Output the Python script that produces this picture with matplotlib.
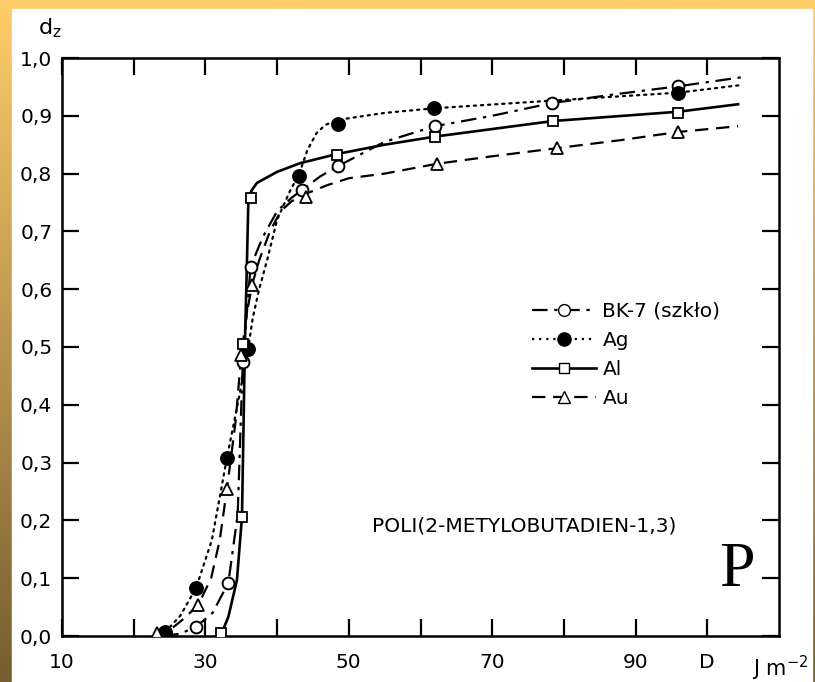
import numpy as np
import matplotlib
matplotlib.use("Agg")
import matplotlib.pyplot as plt
from matplotlib.lines import Line2D
from matplotlib.patches import Rectangle

plt.rcParams['font.family'] = ['DejaVu Sans']

# ---------------- data ----------------
series_names = ["BK-7 (szkło)", "Ag", "Al", "Au"]

bk7_x = [24.1, 28.7, 33.2, 35.2, 36.3, 43.5, 48.5, 62.0, 78.3, 95.9]
bk7_y = [0.004, 0.016, 0.092, 0.474, 0.639, 0.772, 0.813, 0.882, 0.922, 0.951]
bk7_curve_x = [24.1, 26.5, 28.7, 31.0, 33.2, 34.5, 35.2, 36.3, 38.0, 40.0, 42.0, 43.5, 46.0, 48.5, 55.0, 62.0, 70.0, 78.3, 87.0, 95.9, 105.0]
bk7_curve_y = [0.0, 0.004, 0.016, 0.040, 0.092, 0.210, 0.470, 0.639, 0.690, 0.735, 0.758, 0.772, 0.795, 0.813, 0.855, 0.882, 0.900, 0.922, 0.937, 0.951, 0.967]

ag_x = [24.4, 28.7, 33.0, 36.0, 43.1, 48.5, 61.9, 95.9]
ag_y = [0.007, 0.083, 0.308, 0.497, 0.795, 0.886, 0.913, 0.939]
ag_curve_x = [23.5, 24.4, 26.5, 28.7, 30.9, 33.0, 34.8, 36.0, 36.6, 37.5, 38.6, 40.0, 41.8, 43.1, 44.2, 45.5, 46.7, 48.5, 55.0, 61.9, 78.0, 95.9, 104.6]
ag_curve_y = [0.0, 0.007, 0.035, 0.083, 0.166, 0.308, 0.420, 0.500, 0.550, 0.600, 0.650, 0.720, 0.770, 0.800, 0.840, 0.870, 0.884, 0.893, 0.905, 0.913, 0.926, 0.940, 0.953]

al_x = [32.2, 35.1, 35.2, 36.3, 48.4, 62.0, 78.5, 95.9]
al_y = [0.005, 0.206, 0.505, 0.758, 0.832, 0.864, 0.891, 0.905]
al_curve_x = [31.5, 32.2, 33.2, 34.4, 35.1, 35.3, 35.5, 35.8, 36.0, 36.5, 37.2, 40.0, 43.2, 48.4, 55.0, 62.0, 78.5, 95.9, 104.3]
al_curve_y = [0.0, 0.003, 0.033, 0.097, 0.206, 0.350, 0.500, 0.650, 0.758, 0.772, 0.784, 0.803, 0.818, 0.834, 0.850, 0.864, 0.891, 0.907, 0.920]

au_x = [23.2, 29.0, 33.0, 35.0, 36.5, 44.0, 62.3, 79.0, 95.9]
au_y = [0.005, 0.054, 0.254, 0.486, 0.607, 0.760, 0.817, 0.844, 0.872]
au_curve_x = [22.8, 25.0, 27.0, 29.0, 30.8, 32.0, 33.0, 34.2, 35.0, 35.8, 36.5, 37.5, 39.0, 40.5, 42.0, 44.0, 47.0, 50.0, 55.0, 62.3, 70.0, 79.0, 88.0, 95.9, 104.3]
au_curve_y = [0.0, 0.010, 0.030, 0.054, 0.100, 0.166, 0.254, 0.370, 0.486, 0.560, 0.607, 0.650, 0.700, 0.735, 0.752, 0.765, 0.780, 0.792, 0.800, 0.817, 0.830, 0.844, 0.858, 0.872, 0.882]

x_ticks = [10, 20, 30, 40, 50, 60, 70, 80, 90, 100]
x_tick_labels = ["10", "", "30", "", "50", "", "70", "", "90", "D"]
y_ticks = [0.0, 0.1, 0.2, 0.3, 0.4, 0.5, 0.6, 0.7, 0.8, 0.9, 1.0]
y_tick_labels = ["0,0", "0,1", "0,2", "0,3", "0,4", "0,5", "0,6", "0,7", "0,8", "0,9", "1,0"]

# ---------------- figure ----------------
W, H = 815, 682
fig = plt.figure(figsize=(W / 100, H / 100), dpi=100)

# background frame (gradient border)
bg = fig.add_axes([0, 0, 1, 1], zorder=-10)
top_c = np.array([255, 205, 105]) / 255
bot_c = np.array([118, 94, 50]) / 255
t = np.linspace(0, 1, 256)[:, None]
grad = (top_c[None, :] * (1 - t) + bot_c[None, :] * t)
grad = np.repeat(grad[:, None, :], 2, axis=1)
bg.imshow(grad, aspect='auto', extent=[0, 1, 0, 1], origin='upper')
bg.add_patch(Rectangle((12 / W, 0), (812 - 12) / W, (H - 9) / H, color='white', zorder=2))
bg.set_xlim(0, 1)
bg.set_ylim(0, 1)
bg.axis('off')

ax = fig.add_axes([62 / W, 1 - 636 / H, (779 - 62) / W, (636 - 58) / H])
ax.set_facecolor('none')
ax.set_xlim(10, 110)
ax.set_ylim(0, 1.0)

lw = 1.6
ax.plot(bk7_curve_x, bk7_curve_y, color='black', lw=lw, ls=(0, (7, 3, 1.5, 3)), zorder=2)
ax.plot(ag_curve_x, ag_curve_y, color='black', lw=lw, ls=(0, (1, 2.2)), dash_capstyle='round', zorder=2)
ax.plot(al_curve_x, al_curve_y, color='black', lw=1.9, ls='-', zorder=2)
ax.plot(au_curve_x, au_curve_y, color='black', lw=lw, ls=(0, (6, 3.5)), zorder=2)

ax.plot(bk7_x, bk7_y, 'o', ms=8.5, mfc='white', mec='black', mew=1.4, zorder=3)
ax.plot(ag_x, ag_y, 'o', ms=9.5, mfc='black', mec='black', mew=1.2, zorder=3)
ax.plot(al_x, al_y, 's', ms=6.5, mfc='white', mec='black', mew=1.3, zorder=3)
ax.plot(au_x, au_y, '^', ms=9, mfc='white', mec='black', mew=1.3, zorder=3)

for s in ax.spines.values():
    s.set_linewidth(1.8)

ax.set_xticks(x_ticks)
ax.set_xticklabels(x_tick_labels)
ax.set_yticks(y_ticks)
ax.set_yticklabels(y_tick_labels)
ax.tick_params(axis='both', which='both', direction='in', length=12, width=1.6,
               top=True, right=True, labelsize=14.5)
ax.tick_params(axis='x', pad=12)
ax.tick_params(axis='y', pad=7)

handles = [
    Line2D([], [], color='black', lw=lw, ls=(0, (7, 3, 1.5, 3)), marker='o', ms=8.5, mfc='white', mec='black'),
    Line2D([], [], color='black', lw=lw, ls=(0, (1, 2.2)), marker='o', ms=9.5, mfc='black', mec='black'),
    Line2D([], [], color='black', lw=1.9, ls='-', marker='s', ms=6.5, mfc='white', mec='black'),
    Line2D([], [], color='black', lw=lw, ls=(0, (6, 3.5)), marker='^', ms=9, mfc='white', mec='black'),
]
ax.legend(handles, series_names, loc='upper left', bbox_to_anchor=((532 - 62) / 717, (636 - 302) / 578),
          frameon=False, fontsize=14.5, handlelength=3.2, handletextpad=0.3, labelspacing=0.5,
          borderpad=0, borderaxespad=0)

ax.text(74.4, 0.19, "POLI(2-METYLOBUTADIEN-1,3)", ha='center', va='center', fontsize=14.5)
ax.text(104.1, 0.112, "P", ha='center', va='center', fontsize=46, family=['Liberation Serif', 'DejaVu Serif'])

ax.annotate("J m$^{-2}$", xy=(106.3, 0), xycoords=('data', 'axes fraction'),
            xytext=(0, -13), textcoords='offset points', ha='left', va='top', fontsize=15)
fig.text(38 / W, 1 - 34 / H, r"d$_\mathregular{z}$", ha='left', va='baseline', fontsize=16)

fig.savefig("out.png", dpi=100)
